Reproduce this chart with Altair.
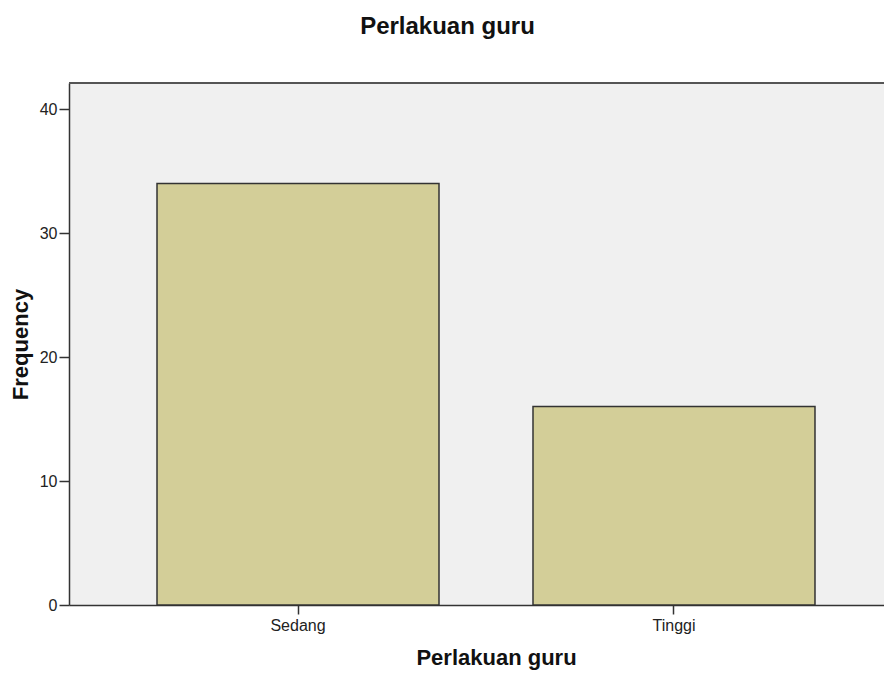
import altair as alt
import pandas as pd

categories = ["Sedang", "Tinggi"]
frequencies = [34, 16]
y_ticks = [0, 10, 20, 30, 40]

df = pd.DataFrame({"cat": categories, "freq": frequencies})

W, H = 815, 522

bars = alt.Chart(df).mark_bar(
    fill="#D3CE98", stroke="#333333", strokeWidth=1.5
).encode(
    x=alt.X("cat:N", sort=categories,
            scale=alt.Scale(paddingInner=0.25, paddingOuter=0.2088, align=0.5605),
            axis=alt.Axis(title="Perlakuan guru", labelAngle=0, tickSize=9,
                          labelPadding=3, labelFontSize=16, labelFont="Liberation Sans",
                          labelColor="#222222", tickColor="#333333", domainColor="#333333",
                          domainWidth=1.5, tickWidth=1.5,
                          titleFont="Liberation Sans", titleFontSize=22, titleFontWeight="bold",
                          titleColor="#111111", titleX=427, titleY=59,
                          titleBaseline="alphabetic", titleAlign="center")),
    y=alt.Y("freq:Q",
            scale=alt.Scale(domain=[0, 42.1], nice=False, zero=True),
            axis=alt.Axis(title="Frequency", values=y_ticks, tickSize=10, labelPadding=2,
                          labelFontSize=16, labelFont="Liberation Sans", labelColor="#222222",
                          tickColor="#333333", domainColor="#333333", domainWidth=1.5,
                          tickWidth=1.5, grid=False,
                          titleFont="Liberation Sans", titleFontSize=22, titleFontWeight="bold",
                          titleColor="#111111", titleX=-42, titleY=H / 2, titleAngle=-90,
                          titleBaseline="alphabetic", titleAlign="center")),
)

top = alt.Chart(pd.DataFrame({"a": [0]})).mark_rule(
    color="#555555", strokeWidth=2
).encode(x=alt.value(0), x2=alt.value(W), y=alt.value(0))

chart = alt.layer(bars, top).properties(
    width=W, height=H,
    autosize=alt.AutoSizeParams(type="none"),
    padding={"left": 61, "top": 75, "right": 0, "bottom": 65},
    title=alt.TitleParams("Perlakuan guru", font="Liberation Sans", fontSize=24,
                          fontWeight="bold", color="#111111", anchor="middle",
                          dx=-29, offset=43),
).configure_view(fill="#F0F0F0", stroke=None)

chart.save("out.html", embed_options={"renderer": "svg", "actions": False})
